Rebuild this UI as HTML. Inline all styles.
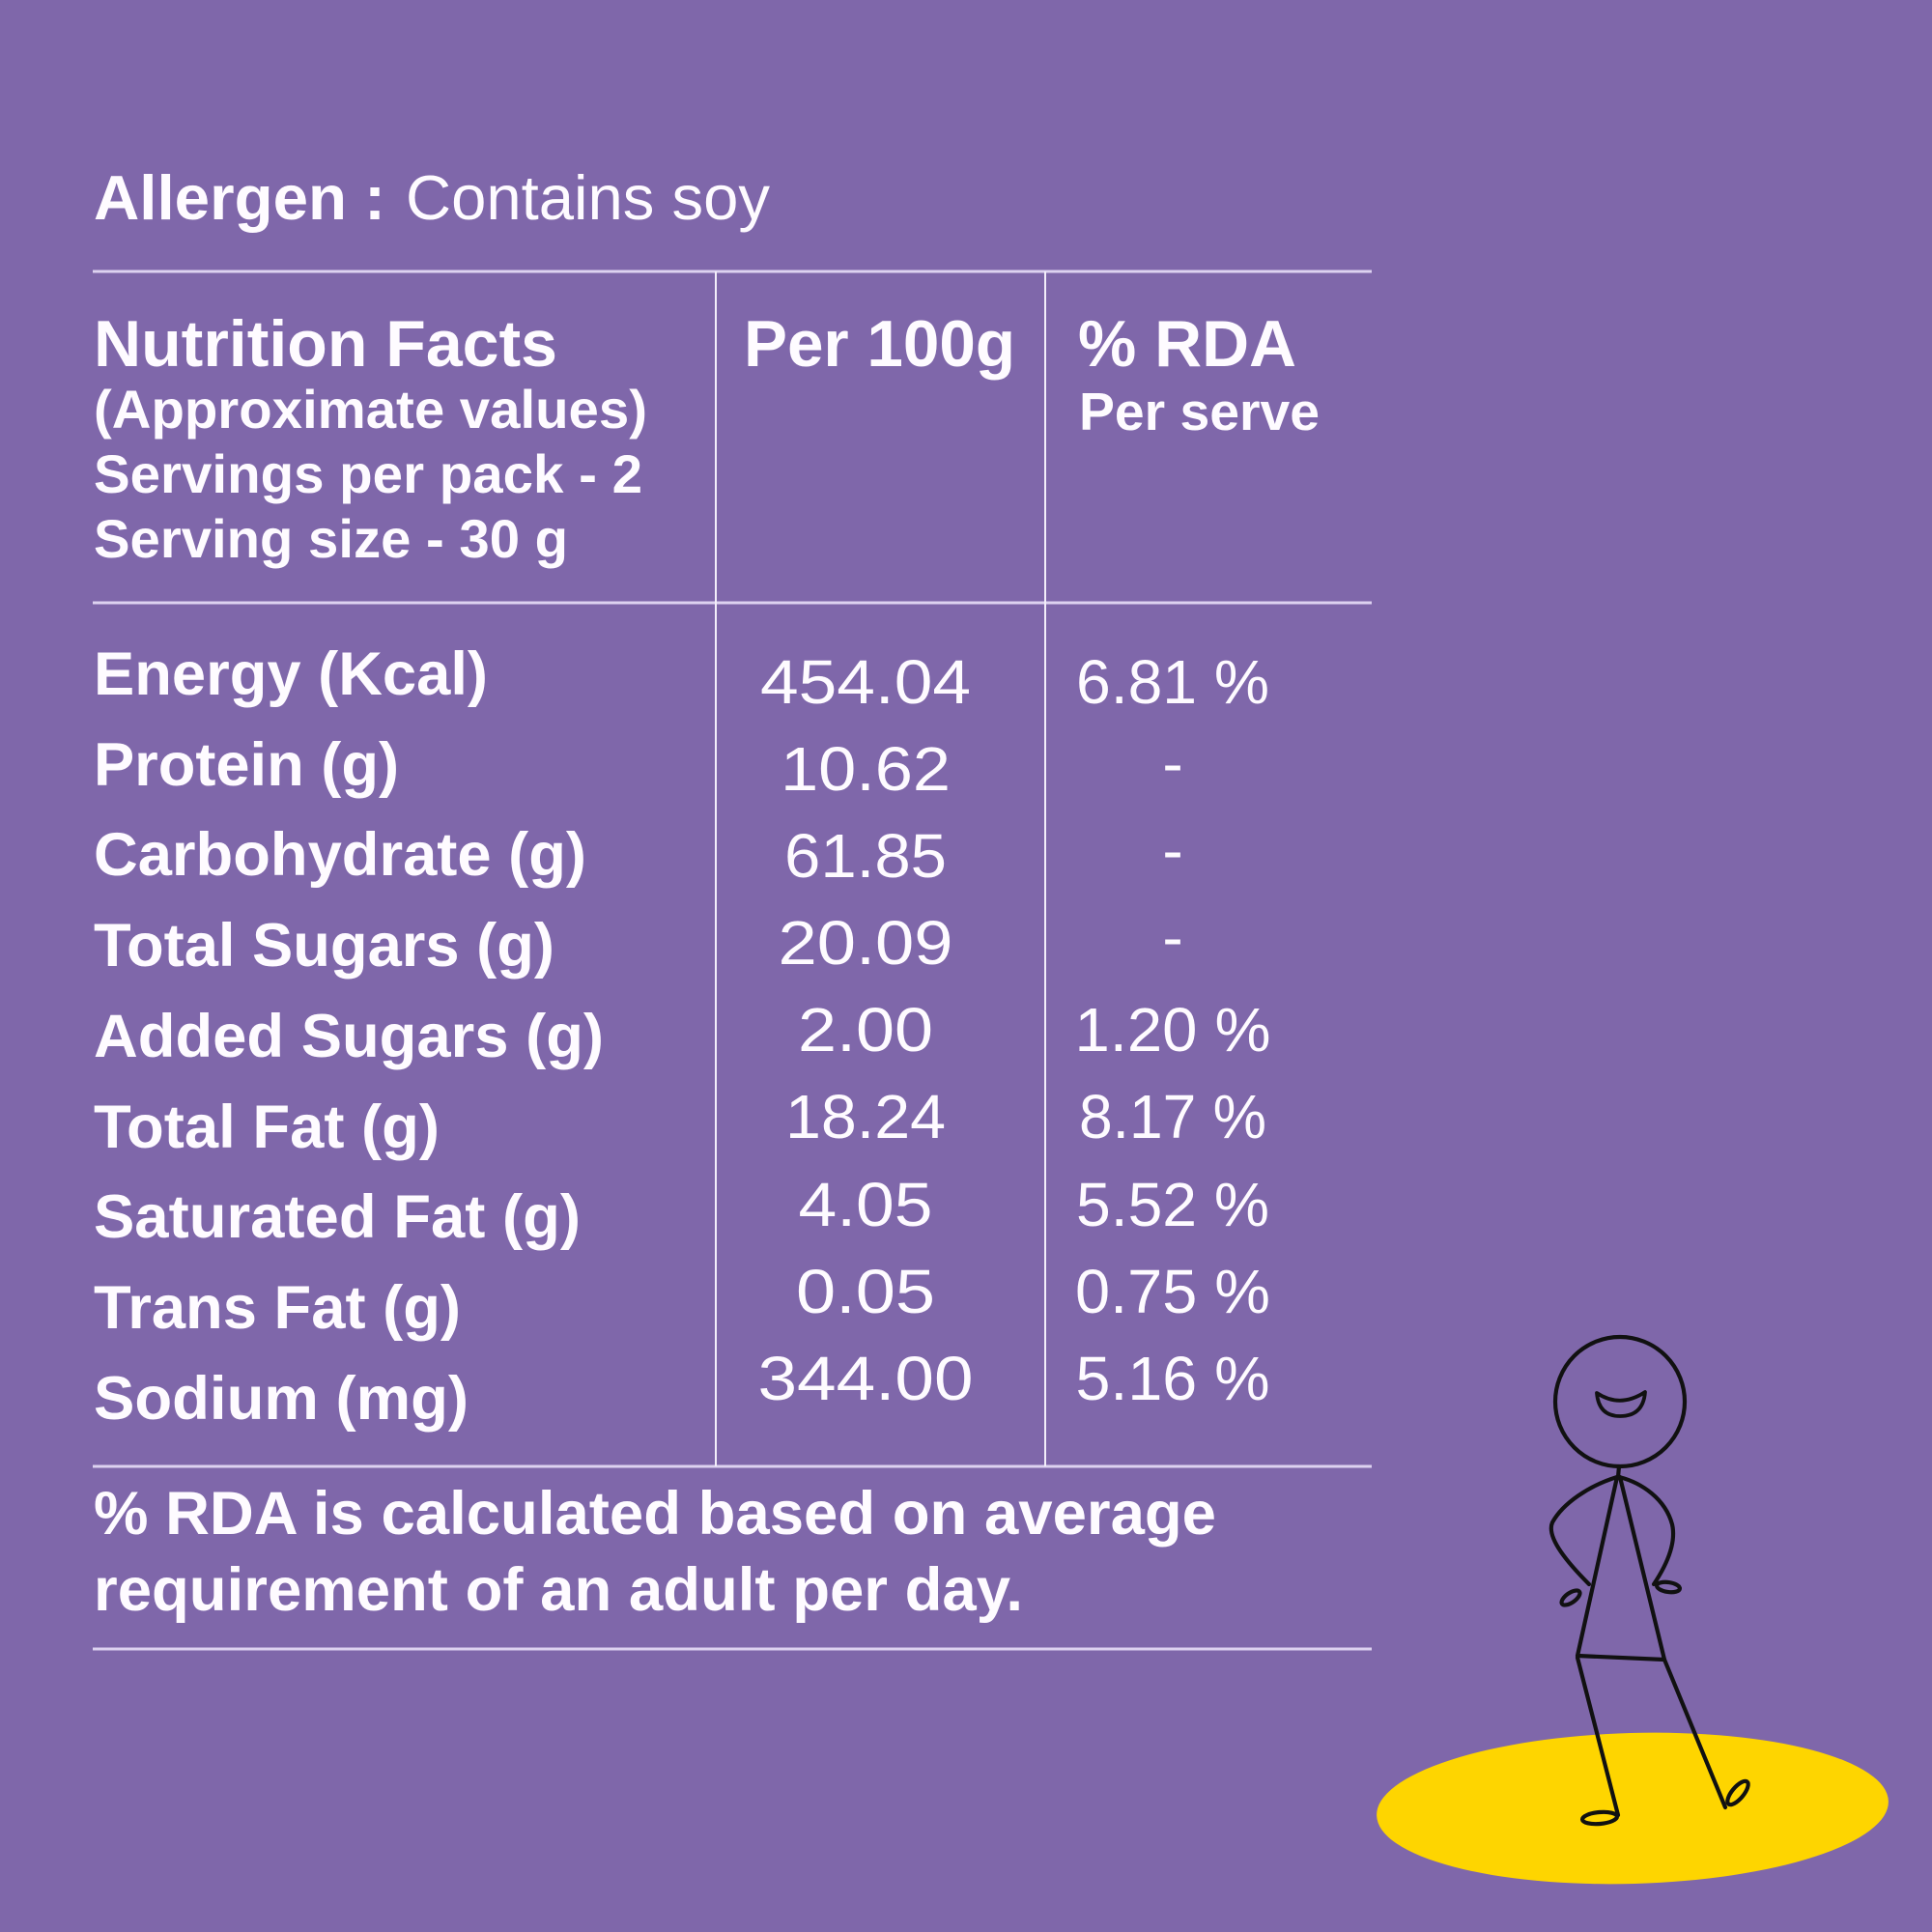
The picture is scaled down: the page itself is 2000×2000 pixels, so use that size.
<!DOCTYPE html>
<html>
<head>
<meta charset="utf-8">
<style>
html,body{margin:0;padding:0;background:#7f67aa;}
svg{display:block;}
.b{font-family:"Liberation Sans",Arial,sans-serif;font-weight:bold;fill:#fefbff;}
.r{font-family:"Liberation Sans",Arial,sans-serif;font-weight:normal;fill:#fefbff;}
</style>
</head>
<body>
<svg width="2000" height="2000" viewBox="0 0 2000 2000" xmlns="http://www.w3.org/2000/svg">
<rect x="0" y="0" width="2000" height="2000" fill="#7f67aa"/>

<!-- Allergen -->
<text x="97" y="227" font-size="65"><tspan class="b" textLength="302" lengthAdjust="spacingAndGlyphs">Allergen :</tspan><tspan class="r" x="420" textLength="377" lengthAdjust="spacingAndGlyphs">Contains soy</tspan></text>

<!-- table lines -->
<g stroke="#ddd2f0" stroke-width="3">
<line x1="96" y1="281" x2="1420" y2="281"/>
<line x1="96" y1="624" x2="1420" y2="624"/>
<line x1="96" y1="1518" x2="1420" y2="1518"/>
<line x1="96" y1="1707" x2="1420" y2="1707"/>
</g>
<g stroke="#f3eefa" stroke-width="2">
<line x1="741" y1="281" x2="741" y2="1518"/>
<line x1="1082" y1="281" x2="1082" y2="1518"/>
</g>

<!-- header -->
<text class="b" x="97" y="379" font-size="68" textLength="480" lengthAdjust="spacingAndGlyphs">Nutrition Facts</text>
<text class="b" x="97" y="443" font-size="56" textLength="573" lengthAdjust="spacingAndGlyphs">(Approximate values)</text>
<text class="b" x="97" y="510" font-size="56" textLength="568" lengthAdjust="spacingAndGlyphs">Servings per pack - 2</text>
<text class="b" x="97" y="577" font-size="56" textLength="491" lengthAdjust="spacingAndGlyphs">Serving size - 30 g</text>
<text class="b" x="770" y="379" font-size="68" textLength="281" lengthAdjust="spacingAndGlyphs">Per 100g</text>
<text class="b" x="1116" y="379" font-size="68" textLength="226" lengthAdjust="spacingAndGlyphs">% RDA</text>
<text class="b" x="1117" y="445" font-size="55" textLength="249" lengthAdjust="spacingAndGlyphs">Per serve</text>

<!-- row labels -->
<g class="b" font-size="63">
<text x="97" y="719" textLength="408" lengthAdjust="spacingAndGlyphs">Energy (Kcal)</text>
<text x="97" y="813" textLength="316" lengthAdjust="spacingAndGlyphs">Protein (g)</text>
<text x="97" y="906" textLength="510" lengthAdjust="spacingAndGlyphs">Carbohydrate (g)</text>
<text x="97" y="1000" textLength="477" lengthAdjust="spacingAndGlyphs">Total Sugars (g)</text>
<text x="97" y="1094" textLength="528" lengthAdjust="spacingAndGlyphs">Added Sugars (g)</text>
<text x="97" y="1188" textLength="358" lengthAdjust="spacingAndGlyphs">Total Fat (g)</text>
<text x="97" y="1281" textLength="504" lengthAdjust="spacingAndGlyphs">Saturated Fat (g)</text>
<text x="97" y="1375" textLength="380" lengthAdjust="spacingAndGlyphs">Trans Fat (g)</text>
<text x="97" y="1469" textLength="388" lengthAdjust="spacingAndGlyphs">Sodium (mg)</text>
</g>

<!-- per 100g values -->
<g class="r" font-size="64" text-anchor="middle">
<text x="896" y="728" textLength="218" lengthAdjust="spacingAndGlyphs">454.04</text>
<text x="896" y="818" textLength="176" lengthAdjust="spacingAndGlyphs">10.62</text>
<text x="896" y="908" textLength="168" lengthAdjust="spacingAndGlyphs">61.85</text>
<text x="896" y="998" textLength="181" lengthAdjust="spacingAndGlyphs">20.09</text>
<text x="896" y="1088" textLength="140" lengthAdjust="spacingAndGlyphs">2.00</text>
<text x="896" y="1178" textLength="166" lengthAdjust="spacingAndGlyphs">18.24</text>
<text x="896" y="1269" textLength="139" lengthAdjust="spacingAndGlyphs">4.05</text>
<text x="896" y="1359" textLength="144" lengthAdjust="spacingAndGlyphs">0.05</text>
<text x="896" y="1449" textLength="223" lengthAdjust="spacingAndGlyphs">344.00</text>
</g>

<!-- RDA values -->
<g class="r" font-size="64" text-anchor="middle">
<text x="1214" y="728" textLength="200" lengthAdjust="spacingAndGlyphs">6.81 %</text>
<text x="1214" y="812">-</text>
<text x="1214" y="902">-</text>
<text x="1214" y="992">-</text>
<text x="1214" y="1088" textLength="203" lengthAdjust="spacingAndGlyphs">1.20 %</text>
<text x="1214" y="1178" textLength="194" lengthAdjust="spacingAndGlyphs">8.17 %</text>
<text x="1214" y="1269" textLength="200" lengthAdjust="spacingAndGlyphs">5.52 %</text>
<text x="1214" y="1359" textLength="202" lengthAdjust="spacingAndGlyphs">0.75 %</text>
<text x="1214" y="1449" textLength="201" lengthAdjust="spacingAndGlyphs">5.16 %</text>
</g>

<!-- footer -->
<text class="b" x="97" y="1588" font-size="63" textLength="1162" lengthAdjust="spacingAndGlyphs">% RDA is calculated based on average</text>
<text class="b" x="97" y="1667" font-size="63" textLength="962" lengthAdjust="spacingAndGlyphs">requirement of an adult per day.</text>

<!-- yellow spot -->
<g transform="rotate(-1.6 1690 1872)">
<ellipse cx="1690" cy="1872" rx="265" ry="78" fill="#fed500"/>
</g>

<!-- stick figure -->
<g fill="none" stroke="#111111" stroke-width="4.2" stroke-linecap="round" stroke-linejoin="round">
<circle cx="1677" cy="1451" r="67"/>
<path d="M1653,1442 Q1677,1458 1703,1441 Q1701,1466 1677,1466 Q1655,1466 1653,1442 Z" stroke-width="3.8"/>
<line x1="1676" y1="1518" x2="1675" y2="1529"/>
<!-- arms -->
<path d="M1674,1529 C1645,1538 1618,1556 1607,1576 C1600,1592 1625,1620 1645,1640"/>
<path d="M1676,1529 C1700,1535 1724,1552 1731,1578 C1736,1600 1722,1625 1712,1640"/>
<ellipse cx="1626" cy="1654" rx="11" ry="5" transform="rotate(-35 1626 1654)"/>
<ellipse cx="1727" cy="1643" rx="12" ry="5" transform="rotate(8 1727 1643)"/>
<!-- dress -->
<path d="M1674,1529 L1633,1714 L1723,1718 L1677,1529"/>
<!-- legs -->
<path d="M1633,1716 L1675,1879"/>
<path d="M1723,1718 L1786,1871"/>
<ellipse cx="1656" cy="1882" rx="18" ry="6" transform="rotate(-5 1656 1882)"/>
<ellipse cx="1799" cy="1856" rx="15" ry="6" transform="rotate(-50 1799 1856)"/>
</g>
</svg>
</body>
</html>
